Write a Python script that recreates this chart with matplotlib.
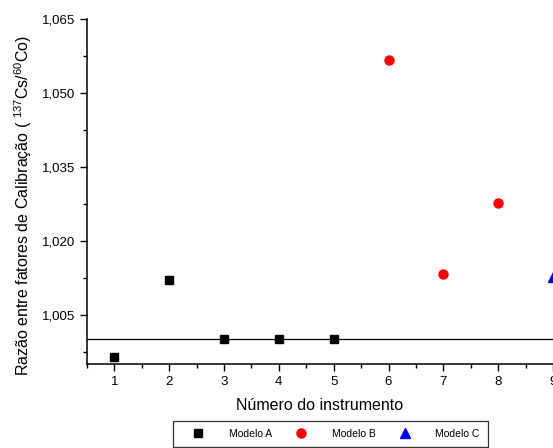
import matplotlib.pyplot as plt
from matplotlib.ticker import MultipleLocator, FuncFormatter

plt.rcParams['font.family'] = ['Liberation Sans', 'DejaVu Sans']
plt.rcParams['mathtext.fontset'] = 'custom'
plt.rcParams['mathtext.rm'] = 'Liberation Sans'
plt.rcParams['mathtext.it'] = 'Liberation Sans:italic'

# dados
xa = [1, 2, 3, 4, 5]
ya = [0.9965, 1.0121, 1.0000, 1.0000, 1.0000]
xb = [6, 7, 8]
yb = [1.0567, 1.0132, 1.0277]
xc = [9]
yc = [1.0126]
ref = 1.000

fig = plt.figure(figsize=(5.53, 4.48), dpi=100)
ax = fig.add_axes([0.1573, 0.1875, 0.8427, 0.770])

ax.plot(xa, ya, 's', color='black', ms=5.5, label='Modelo A', clip_on=False, zorder=3)
ax.plot(xb, yb, 'o', color='red', ms=6.5, label='Modelo B', clip_on=False, zorder=3)
ax.plot(xc, yc, '^', color='blue', ms=7, label='Modelo C', clip_on=False, zorder=3)
ax.axhline(ref, color='black', lw=0.9)

ax.set_xlim(0.5, 9.0)
ax.set_ylim(0.995, 1.065)
ax.xaxis.set_major_locator(MultipleLocator(1))
ax.xaxis.set_minor_locator(MultipleLocator(0.5))
ax.set_yticks([1.005, 1.020, 1.035, 1.050, 1.065])
ax.yaxis.set_major_formatter(FuncFormatter(lambda v, p: f'{v:.3f}'.replace('.', ',')))
ax.set_yticks([0.9975, 1.0125, 1.0275, 1.0425, 1.0575], minor=True)

for s in ['top', 'right']:
    ax.spines[s].set_visible(False)
for s in ['left', 'bottom']:
    ax.spines[s].set_linewidth(1.1)
ax.tick_params(which='major', direction='out', length=5, width=1, labelsize=9.5)
ax.tick_params(which='minor', direction='out', length=3, width=1)

ax.set_xlabel('Número do instrumento', fontsize=11.5, labelpad=7)
ax.set_ylabel('Razão entre fatores de Calibração ( $^{137}$Cs/$^{60}$Co)', fontsize=11.5)
ax.yaxis.set_label_coords(-0.114, 0.46)

leg = fig.legend(loc='upper left', bbox_to_anchor=(173/553, 1 - 420.7/448), ncol=3,
                 fontsize=7.5, frameon=True, fancybox=False, edgecolor='black',
                 handletextpad=1.35, columnspacing=1.2, borderpad=0.8, borderaxespad=0,
                 handlelength=3.2)
leg.get_frame().set_linewidth(0.9)

fig.savefig('out.png', dpi=100)
